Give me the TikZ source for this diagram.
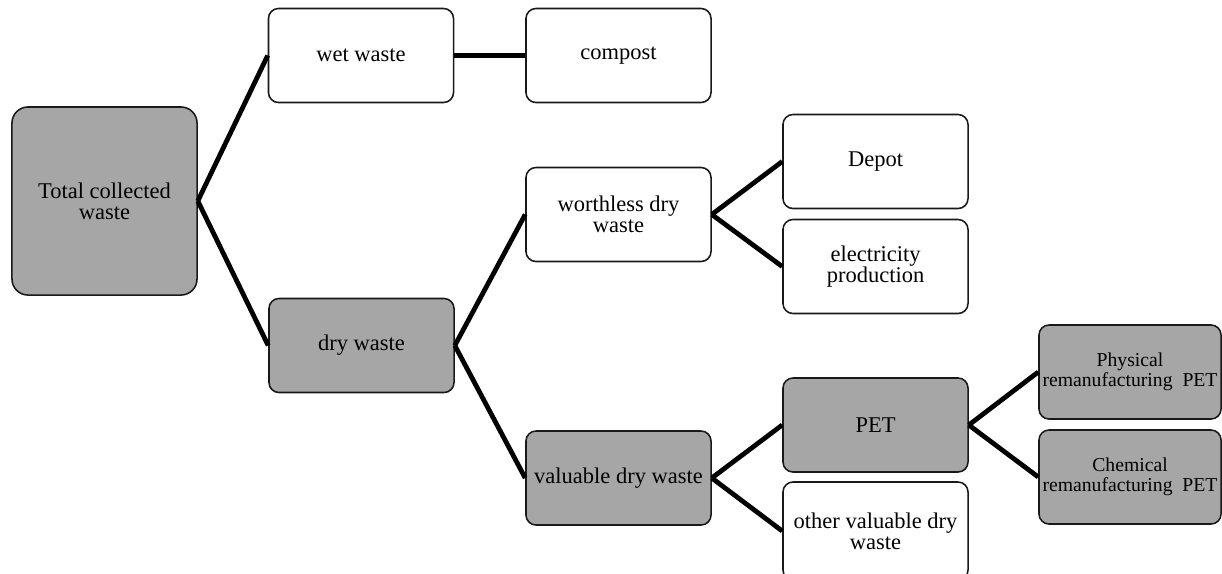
\documentclass[tikz,border=0pt]{standalone}
\usepackage{fontspec}
\setmainfont{Liberation Serif}
\usepackage{xcolor}
\usepackage{tikz}
\definecolor{boxgrey}{RGB}{166,166,166}

\begin{document}
\begin{tikzpicture}[x=0.025cm, y=-0.025cm,
    wbox/.style={draw=black!90, line width=1.1pt, rounded corners=0.25cm, fill=white,
        minimum width=4.625cm, minimum height=2.35cm, inner sep=1pt, align=center,
        font=\fontsize{16}{15}\selectfont},
    gbox/.style={wbox, fill=boxgrey},
    link/.style={line width=3.4pt}]
    \useasboundingbox (0,0) rectangle (1222,573);

    \node[gbox, minimum height=4.7cm, rounded corners=0.4cm] (total) at (104.5,201) {Total collected\\waste};
    \node[wbox] (wet) at (361,55.5) {wet waste};
    \node[wbox] (compost) at (618.5,55.5) {compost};
    \node[gbox] (dry) at (361.5,345.5) {dry waste};
    \node[wbox] (worthless) at (618.5,214.5) {worthless dry\\waste};
    \node[gbox] (valuable) at (618.5,478) {valuable dry waste};
    \node[wbox] (depot) at (875.5,161.5) {Depot};
    \node[wbox] (elec) at (875.5,266.5) {electricity\\production};
    \node[gbox] (pet) at (875.5,425) {PET};
    \node[wbox, minimum height=2.45cm] (other) at (875.5,531) {other valuable dry\\waste};
    \node[gbox, minimum width=4.55cm, font=\fontsize{14}{14}\selectfont] (phys) at (1130,372) {Physical\\remanufacturing~ PET};
    \node[gbox, minimum width=4.55cm, font=\fontsize{14}{14}\selectfont] (chem) at (1130,477) {Chemical\\remanufacturing~ PET};

    \draw[link] (total.east) -- (wet.west);
    \draw[link] (total.east) -- (dry.west);
    \draw[link] (wet.east) -- (compost.west);
    \draw[link] (dry.east) -- (worthless.west);
    \draw[link] (dry.east) -- (valuable.west);
    \draw[link] (worthless.east) -- (depot.west);
    \draw[link] (worthless.east) -- (elec.west);
    \draw[link] (valuable.east) -- (pet.west);
    \draw[link] (valuable.east) -- (other.west);
    \draw[link] (pet.east) -- (phys.west);
    \draw[link] (pet.east) -- (chem.west);
\end{tikzpicture}
\end{document}
